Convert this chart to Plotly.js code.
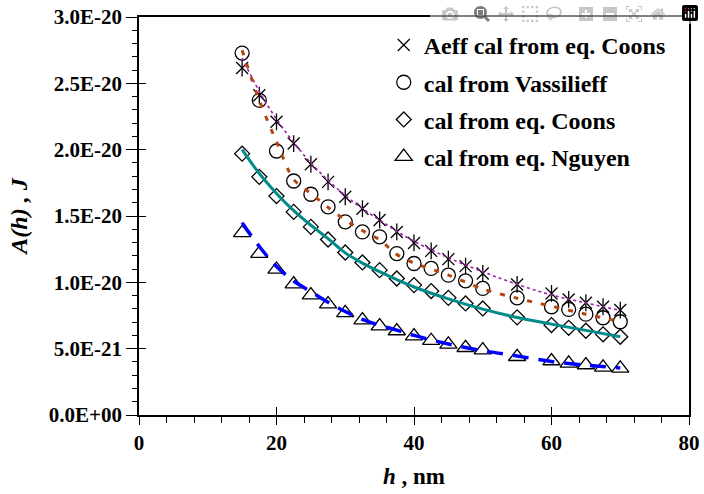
<!DOCTYPE html>
<html>
<head>
<meta charset="utf-8">
<script src="https://cdn.plot.ly/plotly-3.0.1.min.js"></script>
</head>
<body style="margin:0;background:#fff">
<div style="position:absolute;left:4px;top:4px;z-index:0;color:#fff;font:bold 10px 'Liberation Serif'"><b>0</b><i>h</i></div>
<div id="c" style="position:relative;z-index:1;width:704px;height:494px"></div>
<script>
// Separation distance h (nm) at which A(h) was evaluated
var hValues = [15, 17.5, 20, 22.5, 25, 27.5, 30, 32.5, 35, 37.5, 40, 42.5, 45, 47.5, 50, 55, 60, 62.5, 65, 67.5, 70];

// Hamaker function A(h), J
var aeffCoons = [2.615e-20, 2.41e-20, 2.21e-20, 2.046e-20, 1.89e-20, 1.757e-20, 1.645e-20, 1.555e-20, 1.47e-20, 1.38e-20, 1.297e-20, 1.237e-20, 1.175e-20, 1.122e-20, 1.067e-20, 9.84e-21, 9.16e-21, 8.71e-21, 8.46e-21, 8.16e-21, 7.91e-21];
var vassilieff = [2.728e-20, 2.372e-20, 1.99e-20, 1.764e-20, 1.664e-20, 1.569e-20, 1.456e-20, 1.38e-20, 1.343e-20, 1.217e-20, 1.142e-20, 1.105e-20, 1.054e-20, 1.011e-20, 9.54e-21, 8.83e-21, 8.16e-21, 7.96e-21, 7.6e-21, 7.33e-21, 7.03e-21];
var coons = [1.97e-20, 1.795e-20, 1.65e-20, 1.531e-20, 1.418e-20, 1.323e-20, 1.225e-20, 1.15e-20, 1.092e-20, 1.029e-20, 9.79e-21, 9.34e-21, 8.83e-21, 8.41e-21, 8.03e-21, 7.36e-21, 6.78e-21, 6.57e-21, 6.35e-21, 6.08e-21, 5.9e-21];
var nguyen = [1.373e-20, 1.217e-20, 1.097e-20, 9.86e-21, 9.04e-21, 8.36e-21, 7.7e-21, 7.15e-21, 6.7e-21, 6.33e-21, 5.95e-21, 5.6e-21, 5.32e-21, 5.07e-21, 4.89e-21, 4.39e-21, 4.07e-21, 3.89e-21, 3.77e-21, 3.59e-21, 3.52e-21];

// Fitted curves
var hFit = [15, 17.5, 20, 22.5, 25, 27.5, 30, 32.5, 35, 37.5, 40, 45, 50, 55, 60, 65, 70];
var fitAeffCoons = [2.69e-20, 2.44e-20, 2.23e-20, 2.055e-20, 1.9e-20, 1.77e-20, 1.655e-20, 1.555e-20, 1.47e-20, 1.385e-20, 1.31e-20, 1.185e-20, 1.08e-20, 9.85e-21, 9.05e-21, 8.45e-21, 7.88e-21];
var fitVassilieff = [2.75e-20, 2.37e-20, 2.06e-20, 1.775e-20, 1.67e-20, 1.565e-20, 1.47e-20, 1.39e-20, 1.32e-20, 1.21e-20, 1.145e-20, 1.055e-20, 9.5e-21, 8.8e-21, 8.2e-21, 7.6e-21, 7.05e-21];
var fitCoons = [2.0e-20, 1.82e-20, 1.67e-20, 1.54e-20, 1.43e-20, 1.33e-20, 1.222e-20, 1.145e-20, 1.08e-20, 1.02e-20, 9.65e-21, 8.75e-21, 7.98e-21, 7.35e-21, 6.85e-21, 6.38e-21, 5.9e-21];
var fitNguyen = [1.45e-20, 1.27e-20, 1.12e-20, 1.01e-20, 9.3e-21, 8.5e-21, 7.8e-21, 7.2e-21, 6.75e-21, 6.4e-21, 6.0e-21, 5.35e-21, 4.85e-21, 4.45e-21, 4.03e-21, 3.76e-21, 3.55e-21];

// Axis ticks
var yTickVals = [0, 5e-21, 1e-20, 1.5e-20, 2e-20, 2.5e-20, 3e-20];
var yTickText = ['0.0E+00', '5.0E-21', '1.0E-20', '1.5E-20', '2.0E-20', '2.5E-20', '3.0E-20'];
var xTickVals = [0, 20, 40, 60, 80];
var xTickText = ['0', '20', '40', '60', '80'];

var xRange = [0, 80];
var yRange = [0, 3e-20];

function markerTrace(name, y, symbol, size, group, showlegend) {
  return {
    x: hValues, y: y, name: name, type: 'scatter', mode: 'markers',
    legendgroup: group, showlegend: showlegend,
    marker: { symbol: symbol, size: size, color: '#000', line: { color: '#000', width: 1.3 } },
    xaxis: 'x', yaxis: 'y', hoverinfo: 'skip'
  };
}
function fitTrace(y, color, width, dash, smoothing) {
  return {
    x: hFit, y: y, type: 'scatter', mode: 'lines', showlegend: false,
    line: { color: color, width: width, dash: dash, shape: 'spline', smoothing: smoothing },
    xaxis: 'x2', yaxis: 'y2', hoverinfo: 'skip'
  };
}

function buildTraces() {
  return [
    fitTrace(fitAeffCoons, '#a21caf', 1.6, 'dot', 1),
    fitTrace(fitVassilieff, '#b4440e', 3, '5px,9px', 0.8),
    fitTrace(fitCoons, '#008b8b', 3, 'solid', 1),
    fitTrace(fitNguyen, '#0000ff', 3.5, '16px,10px', 1),
    markerTrace('Aeff cal from eq. Coons', aeffCoons, 'x-thin-open', 12, 'g1', true),
    markerTrace('Aeff cal from eq. Coons', aeffCoons, 'line-ns-open', 12, 'g1', false),
    markerTrace('cal from Vassilieff', vassilieff, 'circle-open', 14, 'g2', true),
    markerTrace('cal from eq. Coons', coons, 'diamond-open', 11.5, 'g3', true),
    markerTrace('cal from eq. Nguyen', nguyen, 'triangle-up-open', 15, 'g4', true)
  ];
}

function axisBase() {
  return {
    showgrid: false, zeroline: false,
    linecolor: '#000', linewidth: 1.5, tickcolor: '#000', tickwidth: 1.3
  };
}

function buildLayout() {
  var xa = axisBase(), ya = axisBase(), xa2 = axisBase(), ya2 = axisBase();
  Object.assign(xa, {
    range: xRange, mirror: true, showline: true,
    tickmode: 'array', tickvals: xTickVals, ticktext: xTickText,
    ticks: 'outside', ticklen: 8,
    minor: { ticks: 'outside', ticklen: 6, dtick: 4, tick0: 0, tickcolor: '#000', tickwidth: 1 },
    tickfont: { family: 'Liberation Serif', size: 21, color: '#000', weight: 'bold' },
    title: { text: '<b><i>h</i> , nm</b>', font: { family: 'Liberation Serif', size: 23, color: '#000' }, standoff: 14 }
  });
  Object.assign(ya, {
    range: yRange, mirror: true, showline: true,
    tickmode: 'array', tickvals: yTickVals, ticktext: yTickText,
    ticks: 'outside', ticklen: 11,
    minor: { ticks: 'outside', ticklen: 5, dtick: 1e-21, tick0: 0, tickcolor: '#000', tickwidth: 1 },
    tickfont: { family: 'Liberation Serif', size: 21, color: '#000', weight: 'bold' },
    title: { text: '<b><i>A(h) , J</i></b>', font: { family: 'Liberation Serif', size: 24, color: '#000' }, standoff: 14 }
  });
  // companion axes carry the inward half of each major tick
  Object.assign(xa2, {
    range: xRange, overlaying: 'x', anchor: 'y2', side: 'bottom',
    showline: false, tickmode: 'array', tickvals: xTickVals,
    ticks: 'inside', ticklen: 8, showticklabels: false
  });
  Object.assign(ya2, {
    range: yRange, overlaying: 'y', anchor: 'x2', side: 'left',
    showline: false, tickmode: 'array', tickvals: yTickVals,
    ticks: 'inside', ticklen: 7, showticklabels: false
  });
  return {
    width: 704, height: 494,
    margin: { l: 139, r: 15, t: 17, b: 79 },
    paper_bgcolor: '#fff', plot_bgcolor: '#fff',
    font: { family: 'Liberation Serif', size: 20, color: '#000' },
    showlegend: true,
    legend: {
      x: 0.445, y: 0.985, xanchor: 'left', yanchor: 'top',
      bgcolor: 'rgba(0,0,0,0)', borderwidth: 0,
      font: { family: 'Liberation Serif', size: 24, color: '#000', weight: 'bold' },
      traceorder: 'grouped', tracegroupgap: 3, itemwidth: 30
    },
    xaxis: xa, yaxis: ya, xaxis2: xa2, yaxis2: ya2
  };
}

// pin the serif face on every text node Plotly produced
function pinSerif() {
  var nodes = document.querySelectorAll('#c text, #c tspan');
  for (var i = 0; i < nodes.length; i++) {
    nodes[i].style.setProperty('font-family', "'Liberation Serif', 'Times New Roman', serif", 'important');
  }
}

function draw() {
  return Plotly.newPlot('c', buildTraces(), buildLayout()).then(pinSerif);
}

draw();
if (document.fonts && document.fonts.load) {
  Promise.all([
    document.fonts.load('bold 21px "Liberation Serif"'),
    document.fonts.load('italic bold 24px "Liberation Serif"')
  ]).then(draw);
}
</script>
</body>
</html>
